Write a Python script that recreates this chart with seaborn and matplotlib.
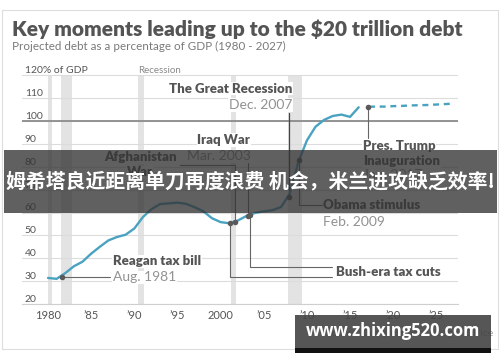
import numpy as np
import pandas as pd
import matplotlib.pyplot as plt
from matplotlib.patches import Rectangle
import seaborn as sns

sns.set_style('white')
plt.rcParams['font.family'] = ['Lato', 'DejaVu Sans']
plt.rcParams['lines.scale_dashes'] = False

# debt held by the public, % of GDP
years = list(range(1980, 2017))
debt = [31.4, 31.0, 33.5, 36.5, 38.5, 42.0, 45.0, 47.8, 49.3, 50.3,
        53.0, 58.0, 61.5, 63.7, 64.0, 64.3, 63.8, 62.3, 60.5, 57.5,
        55.8, 55.3, 56.5, 58.5, 59.8, 60.5, 61.0, 62.4, 68.0, 82.0,
        91.5, 97.5, 100.5, 102.2, 102.8, 101.8, 106.0]
proj_years = list(range(2017, 2028))
proj_debt = [106.2, 106.3, 106.3, 106.5, 106.6, 106.8, 106.9, 107.0, 107.2, 107.4, 107.6]

recessions = [(1980.0, 1980.45), (1981.5, 1982.8), (1990.45, 1991.1),
              (2001.15, 2001.8), (2007.85, 2009.4)]

# event dots on the curve
event_names = ['reagan', 'bush1', 'afghan', 'iraq', 'bush2', 'recession', 'obama', 'trump']
event_x = [1981.6, 2001.1, 2001.65, 2003.2, 2003.4, 2007.9, 2009.1, 2017.05]
event_y = [32.0, 55.4, 55.7, 58.3, 58.7, 66.8, 83.0, 106.2]

ytick_vals = list(range(20, 121, 10))
ytick_labels = [str(v) for v in ytick_vals[:-1]] + ['120% of GDP']
xtick_vals = list(range(1980, 2026, 5))
xtick_labels = ['1980', '\u201985', '\u201990', '\u201995', '2000',
                '\u201905', '\u201910', '\u201915', '\u201920', '\u201925']

W, H = 500, 362
LINE = '#4aa2c1'
DARK = '#555555'
DATE = '#929292'


def fx(px):
    return px / W


def fy(py):
    return 1 - py / H


fig = plt.figure(figsize=(5, 3.62), dpi=100)
# axes placed so 1980 -> 48px, 2025 -> 436px, 20 -> 304px, 100 -> 121px
x0, x1 = 1977.0, 2027.5
y0, y1 = 20, 122
left, right = 48 - 3 * 8.63, 48 + 47.5 * 8.63
bottom, top = 304, 121 - 22 * 2.2875
ax = fig.add_axes([fx(left), fy(bottom), (right - left) / W, (bottom - top) / H])
ax.set_xlim(x0, x1)
ax.set_ylim(y0, y1)

for a, b in recessions:
    ax.axvspan(a, b, ymin=0, ymax=(120 - y0) / (y1 - y0), color='#e3e3e3', lw=0, zorder=0)

ax.set_yticks(ytick_vals)
ax.set_yticklabels(ytick_labels)
ax.grid(axis='y', color='#dcdcdc', lw=0.8, zorder=0.5)
ax.axhline(100, color='#8c8c8c', lw=1.3, zorder=0.6)
ax.tick_params(axis='y', length=0, pad=-2, labelsize=7.5, labelcolor=DARK)
for lab in ax.get_yticklabels():
    lab.set_horizontalalignment('left')
    lab.set_verticalalignment('bottom')

ax.set_xticks(xtick_vals)
ax.set_xticklabels(xtick_labels)
ax.set_xticks(range(1977, 2028), minor=True)
ax.tick_params(axis='x', which='both', direction='in', length=3, width=0.6,
               color='#c4c4c4', labelsize=8, labelcolor=DARK, pad=4)
for s in ['top', 'left', 'right']:
    ax.spines[s].set_visible(False)
ax.spines['bottom'].set_color('#cfcfcf')
ax.spines['bottom'].set_linewidth(0.8)

ax.text(recessions[2][0], 120, 'Recession', fontsize=7, color='#8a8a8a',
        ha='left', va='bottom')

df = pd.DataFrame({'year': years, 'debt': debt})
sns.lineplot(data=df, x='year', y='debt', ax=ax, color=LINE, lw=1.7, zorder=3)
ax.plot(proj_years, proj_debt, color=LINE, lw=1.7, linestyle=(6.5, (4.3, 3.4)), zorder=3)
ax.set_xlabel('')
ax.set_ylabel('')

ev = dict(zip(event_names, zip(event_x, event_y)))
lead = dict(color='#666666', lw=0.8, zorder=2)
box = dict(facecolor='white', edgecolor='none', pad=0.6)
bold = dict(fontsize=9.5, fontweight='heavy', color=DARK, bbox=box, zorder=4)
reg = dict(fontsize=10, color=DATE, bbox=box, zorder=4)

# Reagan tax bill
ex, ey = ev['reagan']
ax.plot([ex, 1987.2], [ey, ey], **lead)
ax.text(1987.5, 38.6, 'Reagan tax bill', ha='left', va='center', **bold)
ax.text(1987.5, 31.6, 'Aug. 1981', ha='left', va='center', **reg)

# Bush-era tax cuts
ex, ey = ev['bush1']
ax.plot([ex, ex, 2012.9], [ey, 31.8, 31.8], **lead)
ex, ey = ev['bush2']
ax.plot([ex, ex, 2012.9], [ey, 36.2, 36.2], **lead)
ax.text(2013.4, 34.0, 'Bush-era tax cuts', ha='left', va='center', **bold)

# Afghanistan War
ex, ey = ev['afghan']
ax.plot([ex, ex, 1995.3], [ey, 80.8, 80.8], **lead)
ax.text(1990.7, 84.3, 'Afghanistan', ha='center', va='center', **bold)
ax.text(1990.7, 77.5, 'War', ha='center', va='center', **bold)

# Iraq War
ex, ey = ev['iraq']
ax.plot([ex, ex], [ey, 81.8], **lead)
ax.text(2003.45, 91.8, 'Iraq War', ha='right', va='center', **bold)
ax.text(2003.45, 84.5, 'Mar. 2003', ha='right', va='center', **reg)

# The Great Recession
ex, ey = ev['recession']
ax.plot([ex, ex], [ey, 103.6], color='#444444', lw=0.9, zorder=2)
ax.text(2008.3, 114.2, 'The Great Recession', ha='right', va='center', **bold)
ax.text(2008.3, 107.1, 'Dec. 2007', ha='right', va='center', **reg)

# Obama stimulus
ex, ey = ev['obama']
ax.plot([ex, ex, 2011.75], [ey, 63.4, 63.4], **lead)
ax.text(2011.9, 63.4, 'Obama stimulus', ha='left', va='center', **bold)
ax.text(2011.9, 56.0, 'Feb. 2009', ha='left', va='center', **reg)

# Trump inauguration
ex, ey = ev['trump']
ax.plot([ex, ex], [ey, 92.6], **lead)
ax.text(2016.5, 89.0, 'Pres. Trump', ha='left', va='center', **bold)
ax.text(2016.5, 82.6, 'Inauguration', ha='left', va='center', **bold)
ax.text(2016.5, 76.2, 'Jan. 2017', ha='left', va='center', **reg)

ax.scatter(event_x, event_y, s=16, color='#5a5a5a', zorder=5, lw=0)

# titles
fig.text(fx(12), fy(35.7), 'Key moments leading up to the $20 trillion debt',
         fontsize=15, fontweight='heavy', color='#545454', va='baseline')
fig.text(fx(12), fy(50), 'Projected debt as a percentage of GDP (1980 - 2027)',
         fontsize=8.4, color='#7a7a7a', va='baseline')
fig.text(fx(493), fy(333), 'Source: Congressional Budget Office',
         fontsize=7.5, color='#9a9a9a', ha='right', va='center')

# frame
fig.patches.append(Rectangle((fx(2), fy(349)), fx(496), 339 / H, transform=fig.transFigure,
                             fill=False, edgecolor='#dddddd', lw=0.8, zorder=1))

# overlay banner
fig.patches.append(Rectangle((fx(4), fy(213)), fx(493), 63 / H, transform=fig.transFigure,
                             facecolor='#333333', alpha=0.78, lw=0, zorder=10))
fig.text(fx(250), fy(181), '姆希塔良近距离单刀再度浪费 机会，米兰进攻缺乏效率!',
         family=['Noto Sans CJK SC', 'DejaVu Sans'], fontsize=14.3, fontweight='bold',
         color='white', ha='center', va='center', zorder=11)

# watermark
fig.patches.append(Rectangle((fx(295), fy(348)), fx(196), 33 / H, transform=fig.transFigure,
                             facecolor='#444444', alpha=0.9, lw=0, zorder=10))
fig.patches.append(Rectangle((fx(295), fy(353)), fx(196), 5 / H, transform=fig.transFigure,
                             facecolor='#111111', lw=0, zorder=10))
fig.text(fx(393), fy(331), 'www.zhixing520.com', fontsize=12, fontweight='bold',
         family=['Open Sans', 'DejaVu Sans'], color='white', ha='center', va='center', zorder=11)

fig.savefig('out.png', dpi=100)
